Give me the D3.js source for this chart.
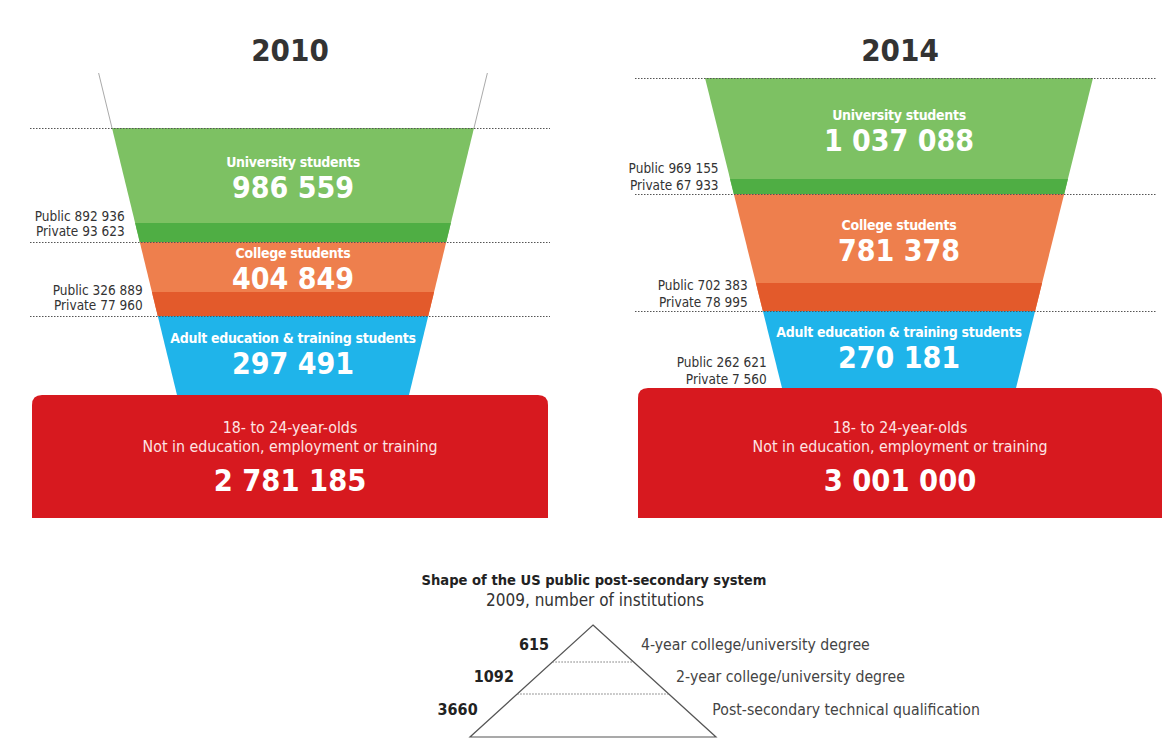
<!DOCTYPE html>
<html>
<head>
<meta charset="utf-8">
<script src="https://cdn.jsdelivr.net/npm/d3@7"></script>
<style>
  body { margin: 0; background: #fff; }
</style>
</head>
<body>
<svg></svg>
<script>
var width = 1174;
var height = 742;

// ---- data ----
var stages = ['University students', 'College students', 'Adult education & training students'];
var total2010 = [986559, 404849, 297491];
var public2010 = [892936, 326889, null];
var private2010 = [93623, 77960, null];
var total2014 = [1037088, 781378, 270181];
var public2014 = [969155, 702383, 262621];
var private2014 = [67933, 78995, 7560];
var neetLabel = ['18- to 24-year-olds', 'Not in education, employment or training'];
var neet = [2781185, 3001000];

var pyramidTitle = 'Shape of the US public post-secondary system';
var pyramidSub = '2009, number of institutions';
var tiers = ['4-year college/university degree', '2-year college/university degree', 'Post-secondary technical qualification'];
var institutions = [615, 1092, 3660];

// ---- layout ----
var panels = [
  { year: '2010', totals: total2010, pub: public2010, priv: private2010, neet: neet[0],
    cx: 293, bounds: [128, 242, 316, 395], halfTop: 181, halfBot: 116,
    strips: [19, 24, 0], guideTop: 73, rule: [30, 550], box: [32, 548], lineGap: 15 },
  { year: '2014', totals: total2014, pub: public2014, priv: private2014, neet: neet[1],
    cx: 899, bounds: [78, 194, 311, 388], halfTop: 194, halfBot: 117,
    strips: [15, 28, 0], guideTop: null, rule: [635, 1156], box: [638, 1162], lineGap: 17 }
];
var textShift = [0, 0, -4];

var light = ['#7dc163', '#ee7f4d', '#1fb4ea'];
var dark = ['#4fae44', '#e35a2b', null];
var red = '#d7191f';

var fmt = d3.formatLocale({ decimal: '.', thousands: ' ', grouping: [3], currency: ['', ''] }).format(',d');

var FUN = "'DejaVu Sans Condensed', 'DejaVu Sans', sans-serif";

var svg = d3.select('svg')
  .attr('width', width)
  .attr('height', height)
  .style('display', 'block');

panels.forEach(function(p) {
  var g = svg.append('g');
  var b = p.bounds;

  // stage index -> y, and y -> funnel half width
  var y = d3.scaleLinear().domain([0, 1, 2, 3]).range(b);
  var half = d3.scaleLinear().domain([b[0], b[3]]).range([p.halfTop, p.halfBot]);

  function trap(y0, y1) {
    return 'M' + (p.cx - half(y0)) + ',' + y0 +
      'L' + (p.cx + half(y0)) + ',' + y0 +
      'L' + (p.cx + half(y1)) + ',' + y1 +
      'L' + (p.cx - half(y1)) + ',' + y1 + 'Z';
  }

  // year title
  var bx = (p.box[0] + p.box[1]) / 2;
  g.append('text')
    .attr('x', bx).attr('y', 61)
    .attr('text-anchor', 'middle')
    .attr('font-family', FUN)
    .attr('font-weight', 'bold')
    .attr('font-size', 31)
    .attr('fill', '#333')
    .text(p.year);

  // faint guide lines continuing the funnel upward
  if (p.guideTop !== null) {
    [-1, 1].forEach(function(s) {
      g.append('line')
        .attr('x1', p.cx + s * half(p.guideTop)).attr('y1', p.guideTop)
        .attr('x2', p.cx + s * half(b[0])).attr('y2', b[0])
        .attr('stroke', '#aaa').attr('stroke-width', 1);
    });
  }

  stages.forEach(function(name, i) {
    var y0 = y(i), y1 = y(i + 1);
    g.append('path').attr('d', trap(y0, y1)).attr('fill', light[i]);
    if (p.strips[i] > 0) {
      g.append('path').attr('d', trap(y1 - p.strips[i], y1)).attr('fill', dark[i]);
    }

    var mid = (y0 + y1 - p.strips[i]) / 2 + textShift[i];
    g.append('text')
      .attr('x', p.cx).attr('y', mid - 9)
      .attr('text-anchor', 'middle')
      .attr('font-family', FUN).attr('font-weight', 'bold')
      .attr('font-size', 14).attr('letter-spacing', -0.3).attr('fill', '#fff')
      .text(name);
    g.append('text')
      .attr('x', p.cx).attr('y', mid + 22)
      .attr('text-anchor', 'middle')
      .attr('font-family', FUN).attr('font-weight', 'bold')
      .attr('font-size', 30).attr('fill', '#fff')
      .text(fmt(p.totals[i]));

    if (p.pub[i] !== null) {
      var ty = y1 - 21;
      var tx = p.cx - half(ty - 4) - 9;
      g.append('text')
        .attr('x', tx).attr('y', ty)
        .attr('text-anchor', 'end')
        .attr('font-family', FUN).attr('font-size', 13.5).attr('fill', '#333')
        .text('Public ' + fmt(p.pub[i]));
      g.append('text')
        .attr('x', tx).attr('y', ty + p.lineGap)
        .attr('text-anchor', 'end')
        .attr('font-family', FUN).attr('font-size', 13.5).attr('fill', '#333')
        .text('Private ' + fmt(p.priv[i]));
    }
  });

  // dotted rules at top of each stage
  [0, 1, 2].forEach(function(i) {
    g.append('line')
      .attr('x1', p.rule[0]).attr('x2', p.rule[1])
      .attr('y1', y(i) + 0.5).attr('y2', y(i) + 0.5)
      .attr('stroke', '#555').attr('stroke-width', 1)
      .attr('stroke-dasharray', '1.5,1.5');
  });

  // NEET box, rounded top corners
  var x0 = p.box[0], x1 = p.box[1], top = b[3], bot = 518, r = 10;
  g.append('path')
    .attr('d', 'M' + x0 + ',' + bot + 'L' + x0 + ',' + (top + r) +
      'Q' + x0 + ',' + top + ' ' + (x0 + r) + ',' + top +
      'L' + (x1 - r) + ',' + top +
      'Q' + x1 + ',' + top + ' ' + x1 + ',' + (top + r) +
      'L' + x1 + ',' + bot + 'Z')
    .attr('fill', red);

  neetLabel.forEach(function(t, k) {
    g.append('text')
      .attr('x', bx).attr('y', bot - 85 + k * 19)
      .attr('text-anchor', 'middle')
      .attr('font-family', FUN).attr('font-size', 15.8).attr('fill', '#fde4e4')
      .text(t);
  });
  g.append('text')
    .attr('x', bx).attr('y', bot - 27)
    .attr('text-anchor', 'middle')
    .attr('font-family', FUN).attr('font-weight', 'bold')
    .attr('font-size', 30.5).attr('fill', '#fff')
    .text(fmt(p.neet));
});

// ---- pyramid ----
var pg = svg.append('g');
var px = 593, apexY = 625, baseY = 737, baseHalf = 123;
var py = d3.scaleLinear().domain([0, 1, 2, 3]).range([apexY, 662, 694, baseY]);
var pw = d3.scaleLinear().domain([apexY, baseY]).range([0, baseHalf]);

pg.append('text')
  .attr('x', 594).attr('y', 585)
  .attr('text-anchor', 'middle')
  .attr('font-family', FUN).attr('font-weight', 'bold')
  .attr('font-size', 14.6).attr('fill', '#222')
  .text(pyramidTitle);
pg.append('text')
  .attr('x', 595).attr('y', 606)
  .attr('text-anchor', 'middle')
  .attr('font-family', FUN).attr('font-size', 17).attr('fill', '#333')
  .text(pyramidSub);

pg.append('path')
  .attr('d', 'M' + px + ',' + apexY + 'L' + (px + baseHalf) + ',' + baseY + 'L' + (px - baseHalf) + ',' + baseY + 'Z')
  .attr('fill', 'none').attr('stroke', '#555').attr('stroke-width', 1.2);

[1, 2].forEach(function(i) {
  var yy = py(i);
  pg.append('line')
    .attr('x1', px - pw(yy)).attr('x2', px + pw(yy))
    .attr('y1', yy).attr('y2', yy)
    .attr('stroke', '#777').attr('stroke-width', 1)
    .attr('stroke-dasharray', '1.5,1.5');
});

var tierY = [650, 682, 715];
tiers.forEach(function(t, i) {
  var ty = tierY[i];
  pg.append('text')
    .attr('x', px - pw(ty - 5) - 22).attr('y', ty)
    .attr('text-anchor', 'end')
    .attr('font-family', FUN).attr('font-weight', 'bold')
    .attr('font-size', 16).attr('fill', '#222')
    .text(institutions[i]);
  pg.append('text')
    .attr('x', px + pw(ty - 5) + 26).attr('y', ty)
    .attr('font-family', FUN).attr('font-size', 15.7).attr('fill', '#444')
    .text(t);
});
</script>
</body>
</html>
